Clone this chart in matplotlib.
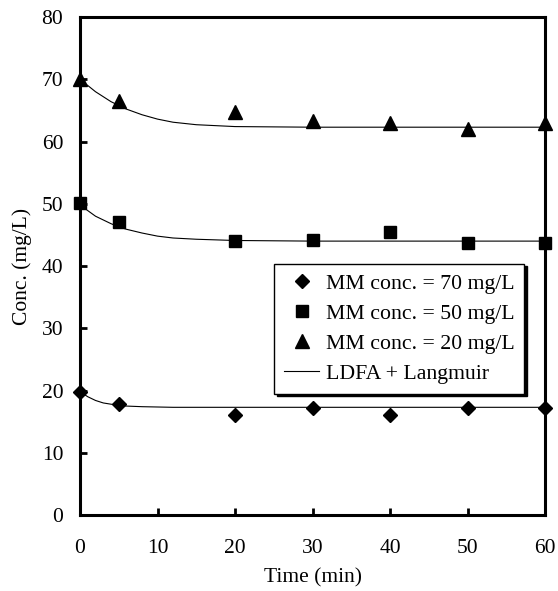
import matplotlib
matplotlib.use("Agg")
import matplotlib.pyplot as plt
from matplotlib.lines import Line2D

plt.rcParams["font.family"] = ["Liberation Serif", "DejaVu Serif"]

# measured concentrations (mg/L) vs time (min)
t_obs = [0, 5, 20, 30, 40, 50, 60]
c70 = [19.8, 17.8, 16.1, 17.2, 16.1, 17.2, 17.2]
c50 = [50.2, 47.0, 44.0, 44.2, 45.4, 43.7, 43.7]
c20 = [70.0, 66.5, 64.8, 63.3, 62.9, 62.0, 62.9]

# LDFA + Langmuir model curves
t_fit = [0, 1, 2, 3, 4, 5, 6, 8, 10, 12, 15, 20, 30, 40, 50, 60]
fit70 = [19.8, 19.0, 18.4, 18.0, 17.8, 17.6, 17.5, 17.4, 17.35, 17.3, 17.3, 17.3, 17.3, 17.3, 17.3, 17.3]
fit50 = [49.8, 48.9, 48.0, 47.4, 46.8, 46.3, 45.9, 45.3, 44.8, 44.5, 44.3, 44.1, 44.0, 44.0, 44.0, 44.0]
fit20 = [69.8, 69.0, 68.0, 67.2, 66.4, 65.8, 65.2, 64.3, 63.6, 63.1, 62.7, 62.4, 62.3, 62.3, 62.3, 62.3]

fig = plt.figure(figsize=(5.58, 5.91), dpi=100)
ax = fig.add_axes([0.1434, 0.1286, 0.8333, 0.8426])

for yf in (fit70, fit50, fit20):
    ax.plot(t_fit, yf, color="black", lw=0.8, zorder=2)
ax.plot(t_obs, c70, ls="none", marker="D", ms=7, color="black", zorder=3, clip_on=False)
ax.plot(t_obs, c50, ls="none", marker="s", ms=8.5, color="black", zorder=3, clip_on=False)
ax.plot(t_obs, c20, ls="none", marker="^", ms=10, color="black", zorder=3, clip_on=False)

ax.set_xlim(0, 60)
ax.set_ylim(0, 80)
ax.set_xticks(range(0, 61, 10))
ax.set_yticks(range(0, 81, 10))
ax.tick_params(direction="in", length=5, width=2, labelsize=15.5,
               top=False, right=False)
ax.tick_params(axis="x", pad=17.5)
ax.tick_params(axis="y", pad=12)
for sp in ax.spines.values():
    sp.set_linewidth(2.2)
ax.set_xlabel("Time (min)", fontsize=15.5, labelpad=7)
ax.set_ylabel("Conc. (mg/L)", fontsize=15.5, labelpad=7)

handles = [
    Line2D([], [], ls="none", marker="D", ms=7, color="black"),
    Line2D([], [], ls="none", marker="s", ms=8.5, color="black"),
    Line2D([], [], ls="none", marker="^", ms=10, color="black"),
    Line2D([], [], color="black", lw=0.8),
]
labels = ["MM conc. = 70 mg/L", "MM conc. = 50 mg/L",
          "MM conc. = 20 mg/L", "LDFA + Langmuir"]
leg = ax.legend(handles, labels, loc="upper right", bbox_to_anchor=(0.955, 0.505),
                fontsize=15.7, frameon=True, fancybox=False,
                shadow={"color": "black", "alpha": 1},
                handlelength=1.6, handletextpad=0.3, borderpad=0.45, labelspacing=0.45,
                borderaxespad=0)
leg.get_frame().set_edgecolor("black")
leg.get_frame().set_linewidth(1.0)

fig.savefig("out.png", dpi=100)
